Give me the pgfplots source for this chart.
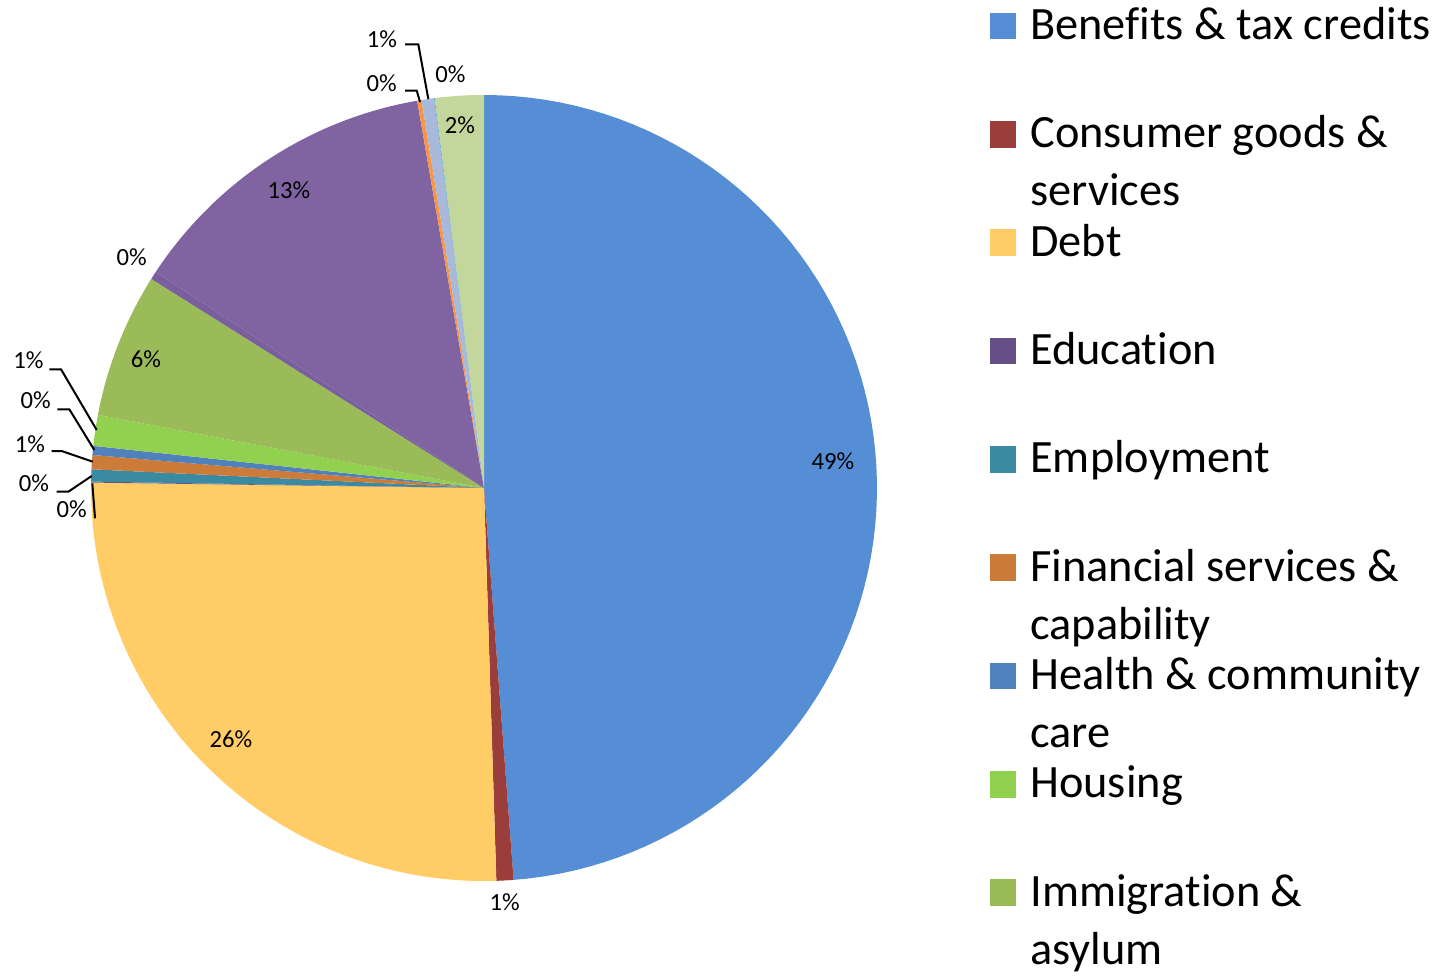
\documentclass[border=0pt]{standalone}
\usepackage{fontspec}
\setmainfont{Carlito}[Ligatures=NoCommon]
\usepackage{pgfplots}
\pgfplotsset{compat=1.18}

\definecolor{cBen}{HTML}{558ED5}
\definecolor{cCon}{HTML}{9B3D3B}
\definecolor{cDebt}{HTML}{FFCC66}
\definecolor{cEdu}{HTML}{664F87}
\definecolor{cEmp}{HTML}{3A8BA1}
\definecolor{cFin}{HTML}{CD7B38}
\definecolor{cHea}{HTML}{4F81BD}
\definecolor{cHou}{HTML}{92D050}
\definecolor{cImm}{HTML}{9BBB59}
\definecolor{cLeg}{HTML}{7A5F9E}
\definecolor{cOth}{HTML}{8064A2}
\definecolor{cRel}{HTML}{F79646}
\definecolor{cTax}{HTML}{A8B9DB}
\definecolor{cTra}{HTML}{4BACC6}
\definecolor{cUti}{HTML}{C3D69B}

% slice shares in percent, clockwise from 12 o'clock:
% 48.8, 0.7, 25.72, 0.04, 0.5, 0.58, 0.37, 1.27, 5.95, 0.34, 13.01, 0.18, 0.51, 0.03, 2.0
% cumulative edges used as the domains below

\newcommand{\lines}[1]{\begin{tabular}[t]{@{}l@{}}#1\end{tabular}}

\begin{document}
\begin{tikzpicture}
\begin{axis}[
    width=434.1pt, height=292.8pt,
    scale only axis,
    hide axis,
    clip=false,
    xmin=-1.2316, xmax=2.4504,
    ymin=-1.2417, ymax=1.2417,
    samples=80,
    every axis plot/.append style={draw=none},
    legend image code/.code={\fill[#1, draw=none] (0pt,0pt) rectangle (8pt,8pt);},
    legend style={
        draw=none, fill=none,
        at={(axis description cs:0.6835,0.99447)}, anchor=north west,
        inner sep=0pt, row sep=18.5pt, column sep=4.2pt,
        font=\fontsize{13.9}{17.4}\selectfont,
        nodes={inner sep=0pt, text height=10pt, text depth=4pt},
        cells={anchor=base west},
    },
]
% wedges
\addplot[fill=cBen, domain=0:48.8] ({sin(3.6*x)},{cos(3.6*x)}) -- (0,0) -- cycle;
\addlegendentry{Benefits \& tax credits}
\addplot[fill=cCon, domain=48.8:49.5] ({sin(3.6*x)},{cos(3.6*x)}) -- (0,0) -- cycle;
\addlegendentry{\lines{Consumer goods \&\\services}}
\addplot[fill=cDebt, domain=49.5:75.22] ({sin(3.6*x)},{cos(3.6*x)}) -- (0,0) -- cycle;
\addlegendentry{Debt}
\addplot[fill=cEdu, domain=75.22:75.26] ({sin(3.6*x)},{cos(3.6*x)}) -- (0,0) -- cycle;
\addlegendentry{Education}
\addplot[fill=cEmp, domain=75.26:75.76] ({sin(3.6*x)},{cos(3.6*x)}) -- (0,0) -- cycle;
\addlegendentry{Employment}
\addplot[fill=cFin, domain=75.76:76.34] ({sin(3.6*x)},{cos(3.6*x)}) -- (0,0) -- cycle;
\addlegendentry{\lines{Financial services \&\\capability}}
\addplot[fill=cHea, domain=76.34:76.71] ({sin(3.6*x)},{cos(3.6*x)}) -- (0,0) -- cycle;
\addlegendentry{\lines{Health \& community\\care}}
\addplot[fill=cHou, domain=76.71:77.98] ({sin(3.6*x)},{cos(3.6*x)}) -- (0,0) -- cycle;
\addlegendentry{Housing}
\addplot[fill=cImm, domain=77.98:83.93] ({sin(3.6*x)},{cos(3.6*x)}) -- (0,0) -- cycle;
\addlegendentry{\lines{Immigration \&\\asylum}}
\addplot[fill=cLeg, domain=83.93:84.27, forget plot] ({sin(3.6*x)},{cos(3.6*x)}) -- (0,0) -- cycle;
\addplot[fill=cOth, domain=84.27:97.28, forget plot] ({sin(3.6*x)},{cos(3.6*x)}) -- (0,0) -- cycle;
\addplot[fill=cRel, domain=97.28:97.46, forget plot] ({sin(3.6*x)},{cos(3.6*x)}) -- (0,0) -- cycle;
\addplot[fill=cTax, domain=97.46:97.97, forget plot] ({sin(3.6*x)},{cos(3.6*x)}) -- (0,0) -- cycle;
\addplot[fill=cTra, domain=97.97:98.0, forget plot] ({sin(3.6*x)},{cos(3.6*x)}) -- (0,0) -- cycle;
\addplot[fill=cUti, domain=98.0:100, forget plot] ({sin(3.6*x)},{cos(3.6*x)}) -- (0,0) -- cycle;

% leader lines
\draw[black, line width=0.6pt] (-1.1061,0.3020) -- (-1.0763,0.3020) -- (-0.9855,0.1476);
\draw[black, line width=0.6pt] (-1.0858,0.2003) -- (-1.0552,0.2003) -- (-0.9916,0.0967);
\draw[black, line width=0.6pt] (-1.1000,0.0941) -- (-1.0746,0.0941) -- (-0.9957,0.0669);
\draw[black, line width=0.6pt] (-1.0873,-0.0094) -- (-1.0578,-0.0094) -- (-0.9982,0.0305);
\draw[black, line width=0.6pt] (-0.9898,-0.0771) -- (-0.9967,0.0120);
\draw[black, line width=0.6pt] (-0.2010,1.0109) -- (-0.1712,1.0109) -- (-0.1628,0.9822);
\draw[black, line width=0.6pt] (-0.2010,1.1290) -- (-0.1672,1.1290) -- (-0.1417,0.9898);

% data labels
\begin{scope}[every node/.style={font=\fontsize{7.4}{8.8}\selectfont, inner sep=0pt}]
\node at (0.888,0.0687) {49\%};
\node at (0.0526,-1.0534) {1\%};
\node at (-0.6438,-0.6387) {26\%};
\node at (-0.8601,0.3282) {6\%};
\node at (-0.4962,0.7583) {13\%};
\node at (-0.8964,0.5885) {0\%};
\node at (-0.0611,0.9244) {2\%};
\node at (-0.0852,1.0517) {0\%};
\node at (-0.2595,1.1430) {1\%};
\node at (-0.2603,1.0305) {0\%};
\node at (-1.1595,0.3257) {1\%};
\node at (-1.1407,0.2226) {0\%};
\node at (-1.1552,0.1120) {1\%};
\node at (-1.1450,0.0127) {0\%};
\node at (-1.0491,-0.0547) {0\%};
\end{scope}
\end{axis}
\pgfresetboundingbox
\path (current axis.south west) rectangle (current axis.north east);
\end{tikzpicture}
\end{document}
